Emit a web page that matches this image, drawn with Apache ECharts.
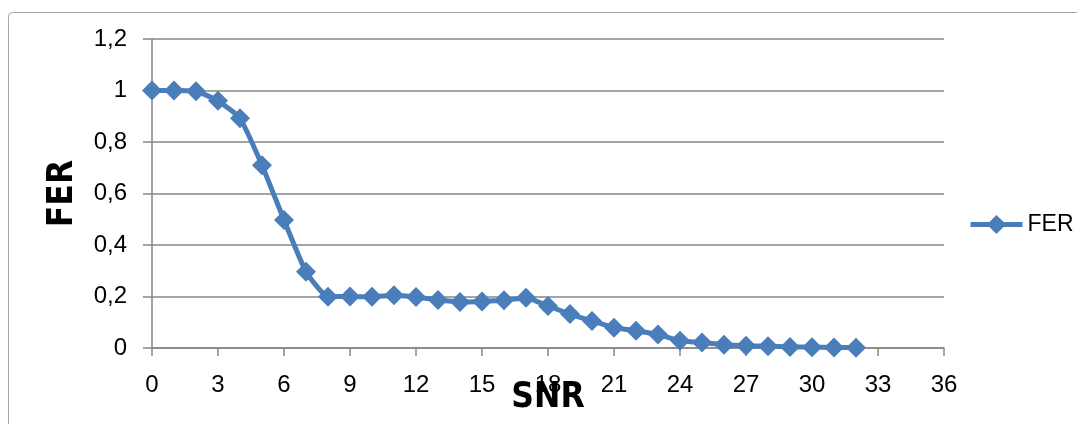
<!DOCTYPE html>
<html><head><meta charset="utf-8">
<script src="https://cdn.jsdelivr.net/npm/echarts@6/dist/echarts.min.js"></script>
<style>html,body{margin:0;padding:0;background:#fff}#c{width:1077px;height:424px}</style>
</head><body><div id="c"></div>
<script>
const snr = [0,1,2,3,4,5,6,7,8,9,10,11,12,13,14,15,16,17,18,19,20,21,22,23,24,25,26,27,28,29,30,31,32];
const fer = [1.0,1.0,0.997,0.96,0.892,0.71,0.497,0.296,0.199,0.2,0.199,0.205,0.198,0.186,0.179,0.181,0.185,0.195,0.163,0.132,0.105,0.079,0.067,0.052,0.028,0.021,0.013,0.009,0.007,0.004,0.003,0.002,0.001];
const seriesName = 'FER';
const xName = 'SNR';
const yName = 'FER';

const chart = echarts.init(document.getElementById('c'));
const font = '"Liberation Sans", Arial, sans-serif';
const boldFont = '"Liberation Sans Narrow", "DejaVu Sans Condensed", "Liberation Sans", sans-serif';
chart.setOption({
  animation: false,
  backgroundColor: '#fff',
  graphic: [{
    type: 'rect', left: 6, top: 10, z: -1,
    shape: { width: 1090, height: 430, r: 4 },
    style: { fill: 'none', stroke: '#a6a6a6', lineWidth: 1 }
  }],
  grid: { left: 152, right: 133, top: 39, bottom: 76, outerBoundsMode: 'none', containLabel: false },
  legend: {
    left: 963, top: 208, orient: 'vertical',
    itemWidth: 52, itemHeight: 24, itemGap: 6,
    lineStyle: { width: 5 },
    textStyle: { fontFamily: font, fontSize: 23, color: '#000' },
    data: [seriesName]
  },
  xAxis: {
    type: 'value', min: 0, max: 36, interval: 3,
    name: xName, nameLocation: 'middle', nameGap: 32, nameMoveOverlap: false,
    nameTextStyle: { fontFamily: boldFont, fontWeight: 'bold', fontSize: 35, color: '#000' },
    axisLine: { lineStyle: { color: '#868686', width: 1.5 } },
    axisTick: { show: true, inside: false, length: 8, lineStyle: { color: '#868686', width: 1.5 } },
    axisLabel: { fontFamily: font, fontSize: 24, color: '#000', margin: 25 },
    splitLine: { show: false }
  },
  yAxis: {
    type: 'value', min: 0, max: 1.2, interval: 0.2,
    name: yName, nameLocation: 'middle', nameGap: 72, nameRotate: 90, nameMoveOverlap: false,
    nameTextStyle: { fontFamily: boldFont, fontWeight: 'bold', fontSize: 35, color: '#000' },
    axisLine: { show: true, lineStyle: { color: '#868686', width: 1.5 } },
    axisTick: { show: true, inside: false, length: 9, lineStyle: { color: '#868686', width: 1.5 } },
    axisLabel: { fontFamily: font, fontSize: 24, color: '#000', margin: 25,
      formatter: v => String(Math.round(v * 10) / 10).replace('.', ',') },
    splitLine: { show: true, lineStyle: { color: '#868686', width: 1.5 } }
  },
  series: [{
    name: seriesName, type: 'line',
    data: snr.map((x, i) => [x, fer[i]]),
    symbol: 'diamond', symbolSize: 20, showAllSymbol: true,
    itemStyle: { color: '#4a7ebb' },
    lineStyle: { color: '#4a7ebb', width: 5 },
    smooth: 0.15
  }]
});
</script></body></html>
